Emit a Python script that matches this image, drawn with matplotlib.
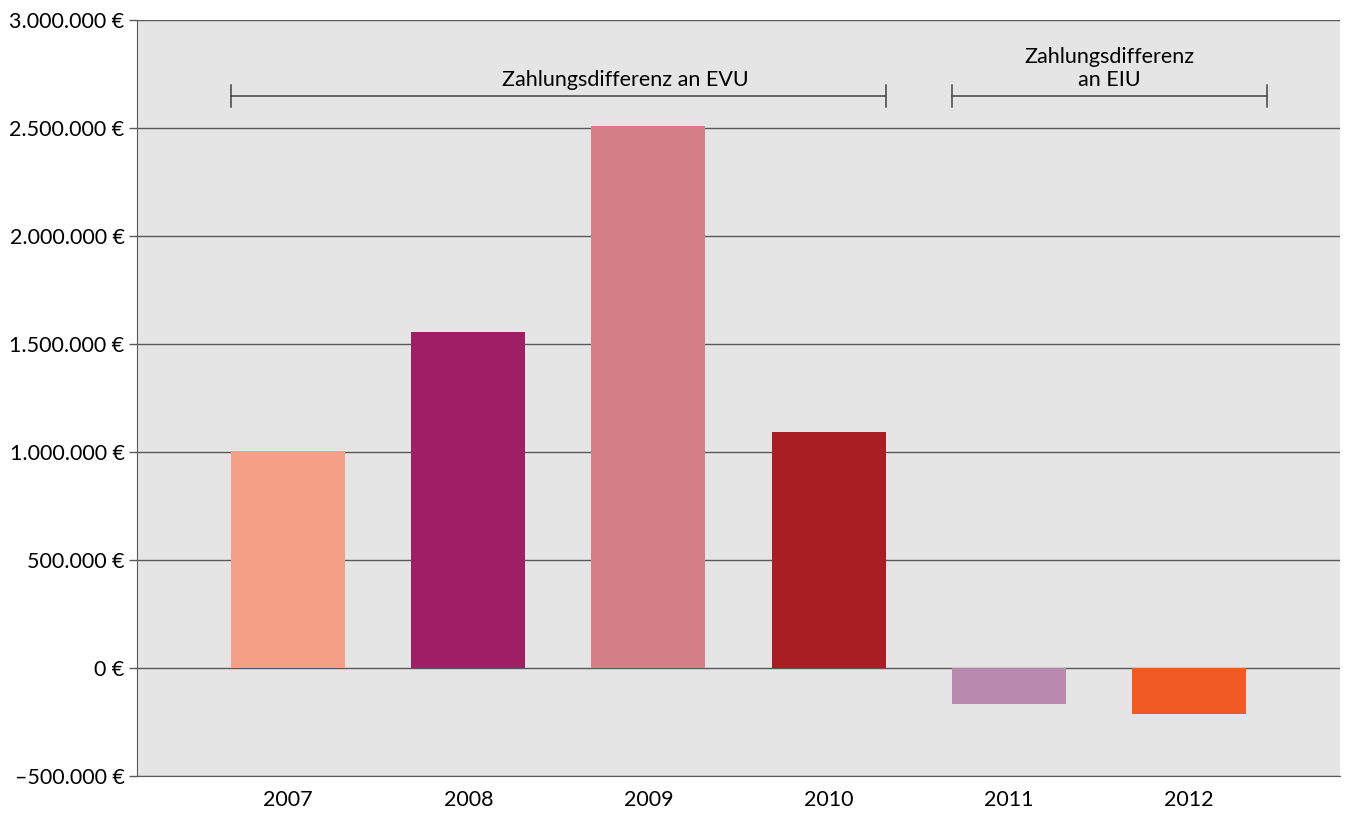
import matplotlib
matplotlib.use("Agg")
import matplotlib.pyplot as plt
from matplotlib.ticker import FuncFormatter

plt.rcParams['font.family'] = ['Lato', 'DejaVu Sans']

years = ["2007", "2008", "2009", "2010", "2011", "2012"]
values = [1005000, 1556000, 2509000, 1093000, -167000, -213000]
colors = ["#F5A086", "#9E1F63", "#D47F87", "#A81E22", "#B989AE", "#F15A22"]
y_ticks = [-500000, 0, 500000, 1000000, 1500000, 2000000, 2500000, 3000000]

bar_width = 0.633
bracket_y = 2648000
fs = 15.5

fig = plt.figure(figsize=(13.46, 8.14), dpi=100)
ax = fig.add_axes([137/1346, 1 - 776/814, (1340 - 137)/1346, (776 - 20)/814])
ax.set_facecolor("#E5E5E5")

x = list(range(len(years)))
ax.bar(x, values, width=bar_width, color=colors, zorder=3)

ax.set_xlim(-0.839, len(years) - 1 + 0.839)
ax.set_ylim(y_ticks[0], y_ticks[-1])
ax.set_yticks(y_ticks)
ax.set_xticks(x)
ax.set_xticklabels(years)


def euro(v, pos):
    s = f"{abs(int(round(v))):,}".replace(",", ".")
    return ("\u2013" if v < 0 else "") + s + " \u20ac"


ax.yaxis.set_major_formatter(FuncFormatter(euro))
ax.grid(axis="y", color="#5A5A5A", linewidth=1.0, zorder=1)
ax.set_axisbelow(True)
for s in ["top", "right"]:
    ax.spines[s].set_visible(False)
ax.spines["left"].set_color("#5A5A5A")
ax.spines["bottom"].set_color("#5A5A5A")
ax.tick_params(axis="y", length=6, width=1, color="#5A5A5A", labelsize=fs, pad=3)
ax.tick_params(axis="x", length=0, labelsize=fs, pad=10)


def bracket(x0, x1, y, label, label_x=None):
    ax.plot([x0, x1], [y, y], color="#444444", lw=1.1, zorder=4)
    for xe in (x0, x1):
        ax.plot([xe, xe], [y - 50000, y + 50000], color="#444444", lw=1.1, zorder=4)
    if label_x is None:
        label_x = (x0 + x1) / 2
    ax.text(label_x, y + 30000, label, ha="center", va="bottom",
            fontsize=fs, linespacing=1.15, zorder=4)


half = bar_width / 2
bracket(0 - half, 3 + half, bracket_y, "Zahlungsdifferenz an EVU", label_x=1.87)
bracket(4 - half, 5.433, bracket_y, "Zahlungsdifferenz\nan EIU")

fig.savefig("out.png", dpi=100)
